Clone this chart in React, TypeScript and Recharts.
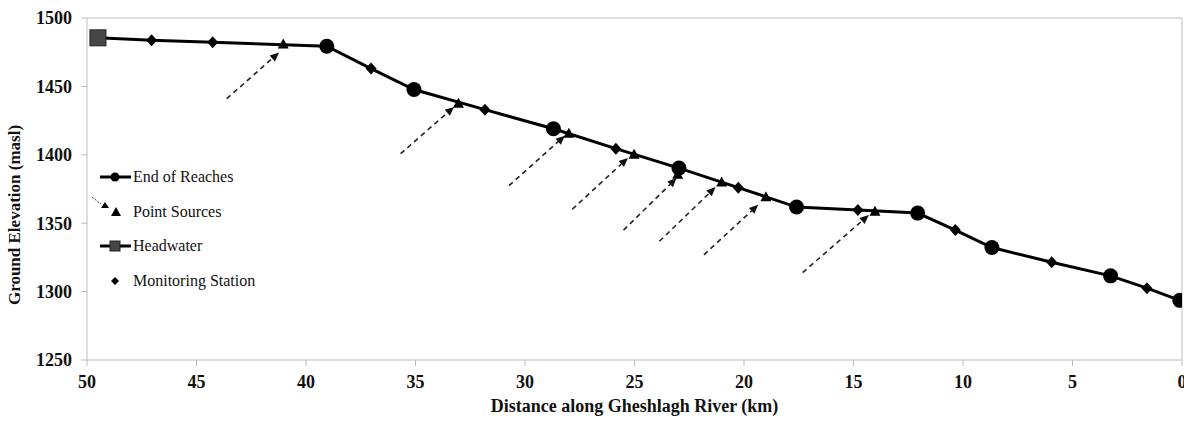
import React from "react";
import {
  ComposedChart,
  Line,
  Scatter,
  XAxis,
  YAxis,
  ReferenceLine,
  Legend
} from "recharts";

// values (km from outlet, metres above sea level)
const headwaterKm = [49.5];
const headwaterElev = [1485.5];

const reachKm = [39.05, 35.07, 28.7, 22.97, 17.6, 12.07, 8.68, 3.26, 0.1];
const reachElev = [1479.4, 1447.7, 1419, 1390.3, 1361.8, 1357.4, 1332.2, 1311.5, 1293.6];

const stationKm = [47.05, 44.26, 37.03, 31.83, 25.85, 20.26, 14.8, 10.35, 5.95, 1.6];
const stationElev = [1483.8, 1482.3, 1463, 1433, 1404.5, 1376, 1359.6, 1345, 1321.5, 1302.5];

const sourceKm = [41.04, 33.04, 28.0, 25.02, 23.03, 21.02, 19.0, 14.02];
const sourceElev = [1480.6, 1437.4, 1415.4, 1400, 1385.4, 1379.8, 1369, 1358.3];

// dashed inflow arrows: start (lower left) -> tip near each point source
const arrowStartKm = [43.62, 35.68, 30.73, 27.84, 25.5, 23.86, 21.83, 17.32];
const arrowStartElev = [1441, 1400.8, 1377.4, 1360.2, 1344.9, 1336.8, 1326.9, 1313.9];
const arrowEndKm = [41.23, 33.24, 28.18, 25.3, 23.08, 21.3, 19.35, 14.3];
const arrowEndElev = [1474.8, 1435, 1414, 1397.7, 1383, 1376.4, 1363.5, 1356];

const xTicks = [0, 5, 10, 15, 20, 25, 30, 35, 40, 45, 50];
const yTicks = [1250, 1300, 1350, 1400, 1450, 1500];

const toPoints = (kms: number[], elevs: number[]) => kms.map((km, i) => ({ km, elev: elevs[i] }));

const headwater = toPoints(headwaterKm, headwaterElev);
const reaches = toPoints(reachKm, reachElev);
const stations = toPoints(stationKm, stationElev);
const sources = toPoints(sourceKm, sourceElev);
const profile = [...headwater, ...reaches, ...stations].sort((a, b) => b.km - a.km);

const FONT = '"Liberation Serif", "Times New Roman", serif';
const AXIS_GREY = "#bcbcbc";
const INK = "#111";

function CircleDot(props: any) {
  const { cx, cy } = props;
  return <circle cx={cx} cy={cy} r={7.5} fill="#000" />;
}

function DiamondDot(props: any) {
  const { cx, cy } = props;
  return <polygon points={`${cx},${cy - 6} ${cx + 5.5},${cy} ${cx},${cy + 6} ${cx - 5.5},${cy}`} fill="#000" />;
}

function TriangleDot(props: any) {
  const { cx, cy } = props;
  return <polygon points={`${cx},${cy - 6} ${cx + 5.5},${cy + 4} ${cx - 5.5},${cy + 4}`} fill="#000" />;
}

function SquareDot(props: any) {
  const { cx, cy } = props;
  return <rect x={cx - 8} y={cy - 8} width={16} height={16} fill="#474747" stroke="#222" strokeWidth={1} />;
}

function DashedArrow(props: any) {
  const { x1, y1, x2, y2 } = props;
  if ([x1, y1, x2, y2].some((v) => typeof v !== "number" || Number.isNaN(v))) return null;
  const dx = x2 - x1;
  const dy = y2 - y1;
  const len = Math.sqrt(dx * dx + dy * dy) || 1;
  const ux = dx / len;
  const uy = dy / len;
  const head = 9;
  const half = 4;
  const bx = x2 - ux * head;
  const by = y2 - uy * head;
  return (
    <g>
      <line x1={x1} y1={y1} x2={bx} y2={by} stroke="#222" strokeWidth={1.6} strokeDasharray="5 4" />
      <polygon
        points={`${x2},${y2} ${bx - uy * half},${by + ux * half} ${bx + uy * half},${by - ux * half}`}
        fill="#111"
      />
    </g>
  );
}

function LegendBox() {
  const rowStyle: React.CSSProperties = { display: "flex", alignItems: "center", height: 34.5 };
  const textStyle: React.CSSProperties = { fontFamily: FONT, fontSize: 16, color: INK, marginLeft: 1, whiteSpace: "nowrap" };
  return (
    <div>
      <div style={rowStyle}>
        <svg width={42} height={34}>
          <line x1={10} y1={17} x2={41} y2={17} stroke="#000" strokeWidth={3} />
          <circle cx={25} cy={17} r={4.5} fill="#000" />
        </svg>
        <span style={textStyle}>End of Reaches</span>
      </div>
      <div style={rowStyle}>
        <svg width={42} height={34}>
          <line x1={2} y1={2} x2={11} y2={9} stroke="#333" strokeWidth={1} strokeDasharray="2 1.5" />
          <polygon points="15,7 19,13 11,13" fill="#000" />
          <polygon points="26,12 31,21 21,21" fill="#000" />
        </svg>
        <span style={textStyle}>Point Sources</span>
      </div>
      <div style={rowStyle}>
        <svg width={42} height={34}>
          <line x1={10} y1={17} x2={41} y2={17} stroke="#000" strokeWidth={3} />
          <rect x={20} y={12} width={10} height={10} fill="#474747" stroke="#222" />
        </svg>
        <span style={textStyle}>Headwater</span>
      </div>
      <div style={rowStyle}>
        <svg width={42} height={34}>
          <polygon points="25,13 29,17 25,21 21,17" fill="#000" />
        </svg>
        <span style={textStyle}>Monitoring Station</span>
      </div>
    </div>
  );
}

export default function App() {
  return (
    <div style={{ position: "absolute", left: 0, top: 0, width: 1184, height: 421, background: "#fff" }}>
      <ComposedChart width={1184} height={421} margin={{ top: 18, right: 2, bottom: 0, left: 0 }}>
        <XAxis
          type="number"
          dataKey="km"
          domain={[0, 50]}
          ticks={xTicks}
          interval={0}
          reversed
          allowDataOverflow
          height={61}
          stroke={AXIS_GREY}
          tickSize={6}
          tickMargin={9}
          tick={{ fontFamily: FONT, fontSize: 18, fontWeight: 700, fill: INK }}
          label={{
            content: (p: any) => {
              const vb = p.viewBox || {};
              return (
                <text
                  x={vb.x + vb.width / 2}
                  y={412}
                  textAnchor="middle"
                  fontFamily={FONT}
                  fontSize={18}
                  fontWeight={700}
                  fill={INK}
                >
                  Distance along Gheshlagh River (km)
                </text>
              );
            }
          }}
        />
        <YAxis
          type="number"
          dataKey="elev"
          domain={[1250, 1500]}
          ticks={yTicks}
          interval={0}
          allowDataOverflow
          width={87}
          stroke={AXIS_GREY}
          tickSize={6}
          tickMargin={9}
          tick={{ fontFamily: FONT, fontSize: 18, fontWeight: 700, fill: INK }}
          label={{
            content: () => (
              <text
                x={20}
                y={215}
                transform="rotate(-90 20 215)"
                textAnchor="middle"
                fontFamily={FONT}
                fontSize={17}
                fontWeight={700}
                fill={INK}
              >
                Ground Elevation (masl)
              </text>
            )
          }}
        />
        <ReferenceLine y={1500} stroke={AXIS_GREY} />
        <ReferenceLine x={0} stroke={AXIS_GREY} />
        <Legend
          layout="vertical"
          align="center"
          verticalAlign="middle"
          content={() => <LegendBox />}
          wrapperStyle={{ left: 90, top: 160, width: 200, height: 140 }}
        />
        {arrowStartKm.map((km, i) => (
          <ReferenceLine
            key={`arrow-${i}`}
            segment={[
              { x: km, y: arrowStartElev[i] },
              { x: arrowEndKm[i], y: arrowEndElev[i] }
            ]}
            shape={(p: any) => <DashedArrow {...p} />}
          />
        ))}
        <Line
          data={profile}
          dataKey="elev"
          type="linear"
          stroke="#000"
          strokeWidth={3}
          dot={false}
          activeDot={false}
          legendType="none"
          isAnimationActive={false}
        />
        <Scatter name="Monitoring Station" data={stations} dataKey="elev" shape={DiamondDot} isAnimationActive={false} />
        <Scatter name="Point Sources" data={sources} dataKey="elev" shape={TriangleDot} isAnimationActive={false} />
        <Scatter name="End of Reaches" data={reaches} dataKey="elev" shape={CircleDot} isAnimationActive={false} />
        <Scatter name="Headwater" data={headwater} dataKey="elev" shape={SquareDot} isAnimationActive={false} />
      </ComposedChart>
    </div>
  );
}
